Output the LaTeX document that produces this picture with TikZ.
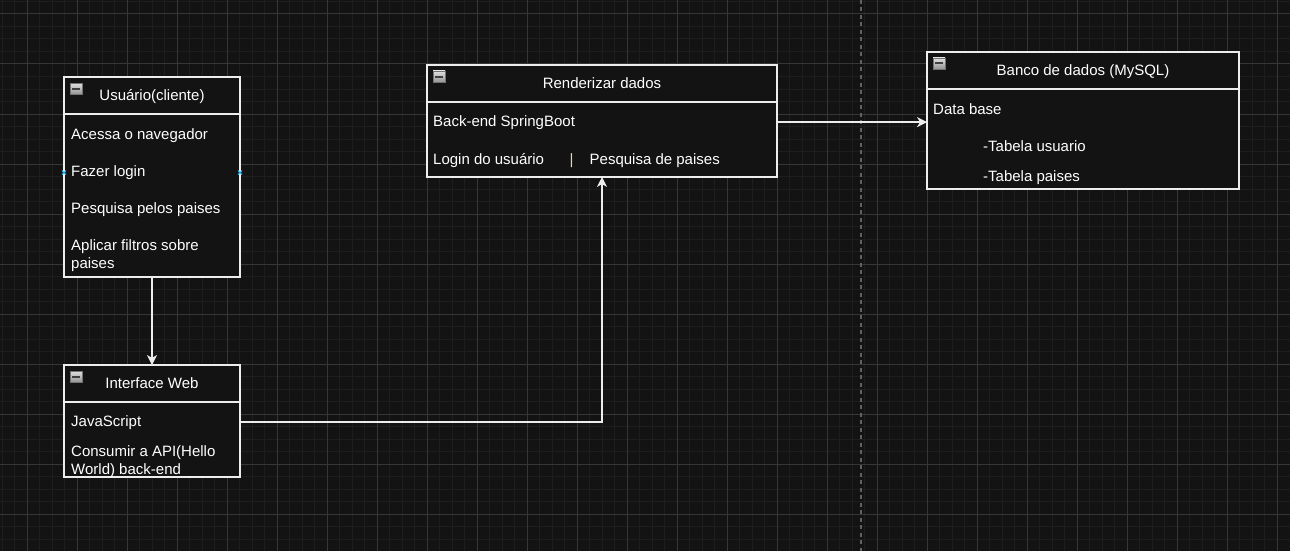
\documentclass[tikz,border=0pt]{standalone}
\usepackage{fontspec}
\setmainfont{Liberation Sans}
\usetikzlibrary{arrows.meta,positioning}

\definecolor{canvas}{HTML}{131313}
\definecolor{minorgrid}{HTML}{1E1E1E}
\definecolor{majorgrid}{HTML}{363636}
\definecolor{boxline}{HTML}{EDEDED}
\definecolor{pipecolor}{HTML}{F3D49C}
\definecolor{hovercolor}{HTML}{2AB5F0}

\tikzset{
  head/.style={draw=boxline, line width=1.2pt, fill=canvas, text=white,
    anchor=north west, minimum height=37pt, inner sep=0pt, outer sep=0pt,
    text height=10.8pt, text depth=0pt, font=\fontsize{15}{18}\selectfont},
  body/.style={draw=boxline, line width=1.2pt, fill=canvas, inner sep=0pt, outer sep=0pt},
  item/.style={anchor=base west, text=white, inner sep=0pt, align=left,
    font=\fontsize{15}{18.3}\selectfont},
  toggle/.style={draw=black!55, line width=0.6pt, top color=black!12, bottom color=black!42,
    minimum width=12pt, minimum height=11pt, inner sep=0pt,
    path picture={\draw[black!75, line width=2pt]
      ([xshift=2.4pt]path picture bounding box.west) -- ([xshift=-2.4pt]path picture bounding box.east);}},
  flow/.style={draw=boxline, line width=1.3pt, -{Stealth[length=10pt,width=10pt,inset=3pt]}}
}

% collapse button in the top left corner of a header
\newcommand\minusbox[1]{\node[toggle] at ([xshift=12pt,yshift=-11.5pt]#1.north west) {};}

\begin{document}
\begin{tikzpicture}[x=1pt,y=-1pt]
    \useasboundingbox (0,0) rectangle (1290,551);
    \fill[canvas] (0,0) rectangle (1290,551);
    % grid
    \foreach \i in {0,...,102}
    \draw[minorgrid, line width=1pt] (2+12.5*\i,0) -- (2+12.5*\i,551);
    \foreach \j in {0,...,43}
    \draw[minorgrid, line width=1pt] (0,1.5+12.5*\j) -- (1290,1.5+12.5*\j);
    \foreach \i in {0,...,25}
    \draw[majorgrid, line width=1pt] (27+50*\i,0) -- (27+50*\i,551);
    \foreach \j in {0,...,10}
    \draw[majorgrid, line width=1pt] (0,14+50*\j) -- (1290,14+50*\j);
    \draw[black!62, line width=1.5pt, dash pattern=on 4pt off 3.5pt] (861,0) -- (861,551);

    % Usuario
    \node[head, minimum width=176pt] (userhead) at (64,77) {Usuário(cliente)};
    \node[body, below=0pt of userhead, minimum width=176pt, minimum height=163pt] (userbody) {};
    \minusbox{userhead}
    \node[item] (acessa) at (71,139) {Acessa o navegador};
    \node[item] (login) at (71,176.5) {Fazer login};
    \node[item] (pesquisa) at (71,213.5) {Pesquisa pelos paises};
    \node[item] (filtros) at (71,268.5) {Aplicar filtros sobre\\paises};
    \foreach \s in {west,east}
    \draw[hovercolor, line width=1.1pt] ([xshift=-2pt,yshift=-2pt]userbody.\s |- login.west) -- ++(4,-4)
      ([xshift=-2pt,yshift=2pt]userbody.\s |- login.west) -- ++(4,4);

    % Interface Web
    \node[head, minimum width=176pt] (webhead) at (64,365) {Interface Web};
    \node[body, below=0pt of webhead, minimum width=176pt, minimum height=75pt] (webbody) {};
    \minusbox{webhead}
    \node[item] (webjs) at (71,426) {JavaScript};
    \node[item] (webapi) at (71,474.5) {Consumir a API(Hello\\World) back-end};

    % Renderizar dados
    \node[head, minimum width=350pt] (renderhead) at (427,65) {Renderizar dados};
    \node[body, below=0pt of renderhead, minimum width=350pt, minimum height=75pt] (renderbody) {};
    \minusbox{renderhead}
    \node[item] (backend) at (433,126) {Back-end SpringBoot};
    \node[item] (userlogin) at (433,164) {Login do usuário};
    \node[item, text=pipecolor] (pipe) at (569.5,164) {|};
    \node[item] (countries) at (589.5,164) {Pesquisa de paises};

    % Banco de dados
    \node[head, minimum width=312pt] (dbhead) at (927,52) {Banco de dados (MySQL)};
    \node[body, below=0pt of dbhead, minimum width=312pt, minimum height=100pt] (dbbody) {};
    \minusbox{dbhead}
    \node[item] (database) at (933,114) {Data base};
    \node[item] (tabuser) at (983,151) {-Tabela usuario};
    \node[item] (tabpais) at (983,181.7) {-Tabela paises};

    % connectors
    \draw[flow] (userbody.south) -- (webhead.north);
    \draw[flow] (webbody.east |- webjs.west) -| (renderbody.south);
    \draw[flow] (renderbody.east |- backend.west) -- (dbbody.west |- backend.west);
\end{tikzpicture}
\end{document}
